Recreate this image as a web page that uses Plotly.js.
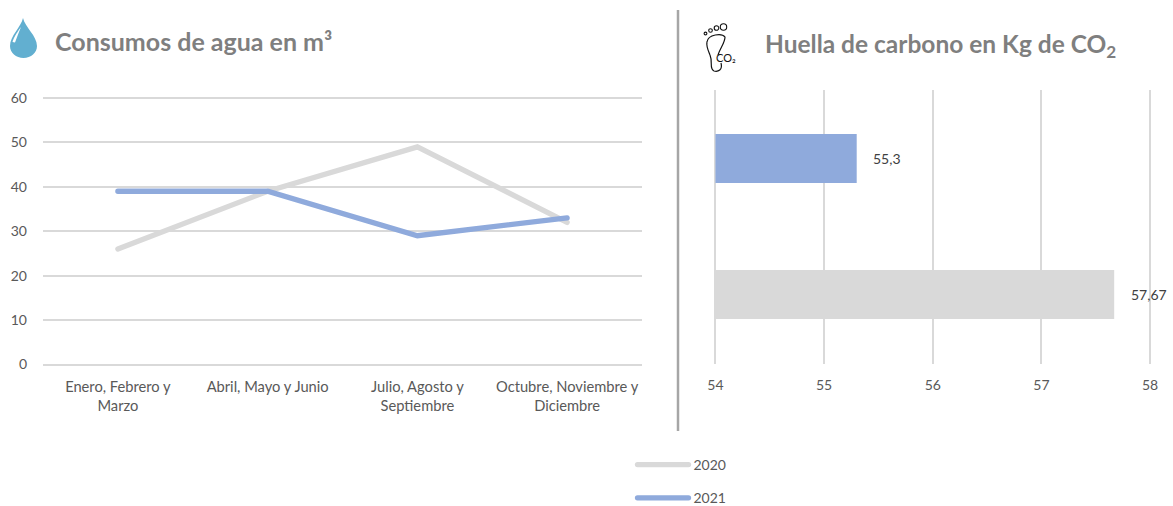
<!DOCTYPE html>
<html>
<head>
<meta charset="utf-8">
<script src="https://cdn.plot.ly/plotly-3.0.1.min.js"></script>
<style>html,body{margin:0;padding:0;background:#fff;overflow:hidden}#c{width:1173px;height:506px}.js-line{stroke-linecap:round}.legend .scrollbox{clip-path:none!important}.legend .scrollbar{display:none}</style>
</head>
<body>
<div id="c"></div>
<script>
const periods = ['Enero, Febrero y<br>Marzo','Abril, Mayo y Junio','Julio, Agosto y<br>Septiembre','Octubre, Noviembre y<br>Diciembre'];
const agua2020 = [26, 39, 49, 32];
const agua2021 = [39, 39, 29, 33];
const years = ['2020','2021'];
const huella = [57.67, 55.3];
const aguaTicks = [0,10,20,30,40,50,60];
const huellaTicks = [54,55,56,57,58];
const colors = {'2020':'#d9d9d9','2021':'#8faadc'};

const W = 1173, H = 506;
const fx = x => x / W, fy = y => 1 - y / H;
const P = (cmds) => cmds.map(c => typeof c === 'string' ? c : (fx(c[0]).toFixed(5) + ',' + fy(c[1]).toFixed(5))).join(' ');
const font = 'Lato, "Open Sans", sans-serif';
const huellaBase = huellaTicks[0];

const traces = [
  {type:'scatter',mode:'lines',x:periods,y:agua2020,name:'2020',xaxis:'x',yaxis:'y',
   line:{color:colors['2020'],width:5.3,shape:'linear'},legendgroup:'a',hoverinfo:'skip'},
  {type:'scatter',mode:'lines',x:periods,y:agua2021,name:'2021',xaxis:'x',yaxis:'y',
   line:{color:colors['2021'],width:5.3,shape:'linear'},legendgroup:'b',hoverinfo:'skip'},
  {type:'bar',orientation:'h',base:huellaBase,x:huella.map(v=>v-huellaBase),y:years,xaxis:'x2',yaxis:'y2',showlegend:false,width:0.36,
   marker:{color:years.map(y=>colors[y])},hoverinfo:'skip'}
];

const footOutline = P(['M',[707,42],'C',[708,34],[722,33],[725,37],'C',[725,43],[720,48],[718,55],
  'M',[721,63],'C',[723,70],[718,72],[714,71],'C',[709,69],[713,62],[710,55],'C',[708,50],[706,46],[707,42]]);
const drop = P(['M',[23,18],'C',[25,27],[37,36],[37,46],'C',[37,53],[31,58],[23.5,58],'C',[16,58],[10,53],[10,46],'C',[10,36],[21,27],[23,18],'Z']);
const glint = P(['M',[21,27],'C',[18,31],[14,37],[12.5,42],'L',[15,42.5],'C',[17,37],[19,32],[21,27],'Z']);
const toe = (x,y,r) => ({type:'circle',xref:'paper',yref:'paper',x0:fx(x-r),x1:fx(x+r),y0:fy(y+r),y1:fy(y-r),
  line:{color:'#111',width:1.1},fillcolor:'rgba(0,0,0,0)'});

const layout = {
  width:W,height:H,margin:{l:0,r:0,t:0,b:0,autoexpand:false},paper_bgcolor:'#fff',plot_bgcolor:'#fff',
  font:{family:font,color:'#595959',size:14},showlegend:true,
  xaxis:{domain:[fx(43),fx(642)],anchor:'y',type:'category',categoryarray:periods,range:[-0.5,3.5],
    showgrid:false,zeroline:false,showline:false,ticks:'',tickfont:{size:14.7,color:'#595959'},automargin:false,tickangle:0,ticklabelstandoff:3},
  yaxis:{domain:[fy(373.4),fy(89.1)],anchor:'x',range:[-2,62],tickvals:aguaTicks,
    gridcolor:'#d9d9d9',gridwidth:2,zeroline:false,showline:false,ticks:'',ticklen:0,
    tickfont:{size:14,color:'#595959'},automargin:false,ticklabelstandoff:15},
  xaxis2:{domain:[fx(704.6),fx(1160.9)],anchor:'y2',range:[53.9,58.1],tickvals:huellaTicks,
    gridcolor:'#d9d9d9',gridwidth:2,zeroline:false,showline:false,ticks:'',
    tickfont:{size:14,color:'#595959'},automargin:false,ticklabelstandoff:11},
  yaxis2:{domain:[fy(364),fy(90)],anchor:'x2',type:'category',categoryarray:years,range:[-0.511,1.504],
    showgrid:false,zeroline:false,showline:false,showticklabels:false,ticks:'',automargin:false},
  legend:{x:fx(632.5),y:fy(449),xanchor:'left',yanchor:'top',orientation:'v',traceorder:'grouped',
    tracegroupgap:12,itemwidth:51,itemclick:false,font:{family:font,size:14,color:'#595959'},bgcolor:'rgba(0,0,0,0)'},
  annotations:[
    {xref:'paper',yref:'paper',x:fx(53),y:fy(41),xanchor:'left',yanchor:'middle',showarrow:false,
     text:'<b>Consumos de agua en m³</b>',font:{family:font,size:25,color:'#7f7f7f'}},
    {xref:'paper',yref:'paper',x:fx(763),y:fy(45),xanchor:'left',yanchor:'middle',showarrow:false,
     text:'<b>Huella de carbono en Kg de CO<sub>2</sub></b>',font:{family:font,size:24.5,color:'#7f7f7f'}},
    {xref:'paper',yref:'paper',x:fx(714),y:fy(57),xanchor:'left',yanchor:'middle',showarrow:false,
     text:'CO₂',font:{family:font,size:11,color:'#111'}},
    ...huella.map((v,i)=>({xref:'x2',yref:'y2',x:v,y:i,xanchor:'left',yanchor:'middle',xshift:14.5,showarrow:false,
      text:String(v).replace('.',','),font:{family:font,size:14,color:'#404040'}}))
  ],
  shapes:[
    {type:'line',xref:'paper',yref:'paper',x0:fx(678),x1:fx(678),y0:fy(10),y1:fy(431),line:{color:'#a6a6a6',width:2.5}},
    {type:'path',xref:'paper',yref:'paper',path:drop,fillcolor:'#62afd0',line:{width:0}},
    {type:'path',xref:'paper',yref:'paper',path:glint,fillcolor:'#ffffff',line:{width:0}},
    {type:'path',xref:'paper',yref:'paper',path:footOutline,fillcolor:'rgba(0,0,0,0)',line:{color:'#111',width:1.2}},
    toe(705.5,33.5,1.4),toe(710.5,30.5,1.8),toe(716.5,28,2.3),toe(723.5,27,3.2)
  ]
};
Plotly.newPlot('c',traces,layout,{displayModeBar:false,staticPlot:true});
</script>
</body>
</html>
